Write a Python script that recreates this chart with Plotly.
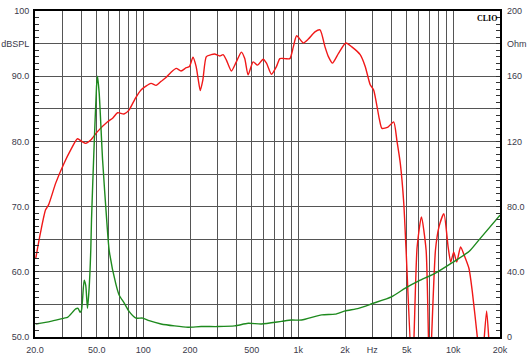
import plotly.graph_objects as go

# ---- SPL response (red), dB
spl_freq = [20.2, 21.7, 23.4, 24.5, 27.2, 30.6, 34.0, 37.6, 40.1, 42.5, 45.8, 50.6, 58.8, 63.6,
            68.2, 75, 80.8, 88.3, 96.6, 112, 120.8, 130, 140, 151, 163, 175, 189, 198.5, 209,
            219, 226, 233, 242, 255, 274, 288, 311, 327, 343, 370, 398, 429, 451, 474, 511,
            545, 593, 623, 671, 723, 760, 819, 882, 928, 975, 1077, 1160, 1280, 1380, 1486,
            1563, 1660, 1816, 2024, 2214, 2506, 2700, 2908, 3060, 3326, 3462, 3786, 4122,
            4331, 4550, 4786, 4952, 5440, 5834, 6222, 6674, 7032, 7666, 8100, 8690, 9266,
            9616, 10058, 10518, 11134, 11764, 12616, 13250, 14280, 15158, 15614, 16400,
            17336, 18000]
spl_db = [62.0, 66.0, 69.5, 70.3, 73.6, 76.5, 78.7, 80.4, 80.0, 79.7, 80.2, 81.5, 83.0, 83.6,
          84.4, 84.2, 84.8, 86.5, 87.9, 88.9, 88.6, 89.2, 89.8, 90.6, 91.2, 90.8, 91.3, 91.5, 92.9,
          91.5, 89.5, 87.8, 89.4, 93.0, 93.3, 93.4, 93.1, 93.3, 92.5, 90.8, 92.2, 93.7, 92.7, 90.2, 92.2,
          91.7, 92.6, 92.0, 90.3, 91.5, 92.7, 92.7, 92.7, 94.5, 96.2, 95.1, 95.7, 96.8, 97.1, 94.5,
          93.0, 92.0, 93.5, 95.1, 94.5, 93.3, 91.5, 88.7, 87.9, 83.5, 82.0, 82.2, 83.0,
          80.0, 76.6, 70.6, 63.5, 44.0, 63.7, 68.4, 63.3, 44.0, 63.3, 67.0, 68.9, 63.7,
          61.5, 63.0, 61.5, 63.8, 62.5, 60.5, 57.0, 50.0, 44.0, 48.0, 54.0,
          46.0, 43.0]

# ---- Impedance (green), Ohm
imp_freq = [20.2, 25.2, 30.8, 32.4, 36.6, 37.9, 39.1, 39.9, 41.5, 42.5, 43.6, 44.7, 45.8, 46.3,
            47.9, 49.9, 50.6, 51.9, 54.6, 58.2, 60.2, 66.5, 69.9, 75.3, 81.1, 89.7, 99.1, 109,
            130, 159, 194, 236, 303, 388, 474, 578, 779, 905, 1050, 1415, 1726, 2003, 2446,
            2984, 4018, 4900, 5984, 7666, 9832, 12616, 14642, 20000]
imp_ohm = [8.0, 9.6, 11.6, 12.0, 17.2, 17.6, 15.2, 16.4, 34.8, 31.6, 17.6, 30.0, 53.2, 72.0,
           112.0, 154.0, 160.0, 149.6, 108.4, 70.0, 53.2, 32.4, 25.6, 20.8, 15.6, 11.6, 11.6, 10.0,
           8.0, 6.8, 6.0, 6.4, 6.4, 6.8, 8.4, 8.0, 9.6, 10.4, 10.4, 13.6, 14.0, 16.0, 17.6,
           20.4, 24.8, 30.0, 34.4, 39.2, 45.6, 52.4, 59.6, 74.8]

# ---- tick labels
x_tick_vals = [20, 30, 40, 50, 60, 70, 80, 90, 100, 200, 300, 400, 500, 600, 700, 800, 900,
               1000, 2000, 3000, 4000, 5000, 6000, 7000, 8000, 9000, 10000, 20000]
x_tick_text = ["20.0", "", "", "50.0", "", "", "", "", "100", "200", "", "", "500", "", "", "", "",
               "1k", "2k", "Hz", "", "5k", "", "", "", "", "10k", "20k"]
y_tick_vals = [50, 55, 60, 65, 70, 75, 80, 85, 90, 95, 100]
y_tick_text = ["50.0", "", "60.0", "", "70.0", "", "80.0", "", "90.0", "dBSPL", "100"]
y2_tick_vals = [0, 20, 40, 60, 80, 100, 120, 140, 160, 180, 200]
y2_tick_text = ["0", "", "40.0", "", "80.0", "", "120", "", "160", "Ohm", "200"]

fig = go.Figure()
fig.add_trace(go.Scatter(x=imp_freq, y=imp_ohm, yaxis="y2", mode="lines",
                         line=dict(color="#1e8a1e", width=1.4, shape="spline", smoothing=0.6),
                         showlegend=False, hoverinfo="skip"))
fig.add_trace(go.Scatter(x=spl_freq, y=spl_db, mode="lines",
                         line=dict(color="#f01818", width=1.4, shape="spline", smoothing=0.6),
                         showlegend=False, hoverinfo="skip"))

lab_font = dict(family="Liberation Sans, Arial, sans-serif", size=9, color="#3a3a4a")
grid_col = "#555555"
tick_col = "#333333"

fig.update_layout(
    template="none",
    width=530, height=364,
    margin=dict(l=35, r=30, t=11, b=27, autoexpand=False),
    paper_bgcolor="white", plot_bgcolor="white",
    xaxis=dict(type="log", range=[1.30103, 4.30103], tickmode="array", automargin=False,
               tickvals=x_tick_vals, ticktext=x_tick_text, showgrid=True,
               gridcolor=grid_col, gridwidth=1, ticks="", tickfont=lab_font,
               showline=True, linecolor="black", linewidth=2, mirror=True,
               zeroline=False, ticklabelstandoff=3),
    yaxis=dict(range=[50, 100], tickmode="array", tickvals=y_tick_vals, ticktext=y_tick_text,
               automargin=False,
               showgrid=True, gridcolor=grid_col, gridwidth=1,
               ticks="inside", ticklen=4, tickwidth=1, tickcolor=tick_col, tickfont=lab_font,
               showline=True, linecolor="black", linewidth=2, mirror=True, zeroline=False,
               ticklabelstandoff=2,
               minor=dict(tickmode="linear", tick0=50, dtick=1, ticks="inside", ticklen=4,
                          tickwidth=1, tickcolor=tick_col, showgrid=False)),
    yaxis2=dict(range=[0, 200], overlaying="y", side="right", tickmode="array",
                automargin=False,
                tickvals=y2_tick_vals, ticktext=y2_tick_text, showgrid=False,
                ticks="inside", ticklen=4, tickwidth=1, tickcolor=tick_col,
                tickfont=lab_font, showline=False, zeroline=False, ticklabelstandoff=6,
                minor=dict(tickmode="linear", tick0=0, dtick=4, ticks="inside", ticklen=4,
                           tickwidth=1, tickcolor=tick_col, showgrid=False)),
    annotations=[dict(text="<b>CLIO</b>", x=1, y=1, xref="paper", yref="paper",
                      xanchor="right", yanchor="top", showarrow=False, xshift=-1, yshift=-1,
                      font=dict(family="Liberation Serif, Times New Roman, serif", size=8,
                                color="black"))],
)

fig.write_html("out.html", config={"displayModeBar": False},
               post_script="document.body.style.margin='0';document.body.style.padding='0';")
